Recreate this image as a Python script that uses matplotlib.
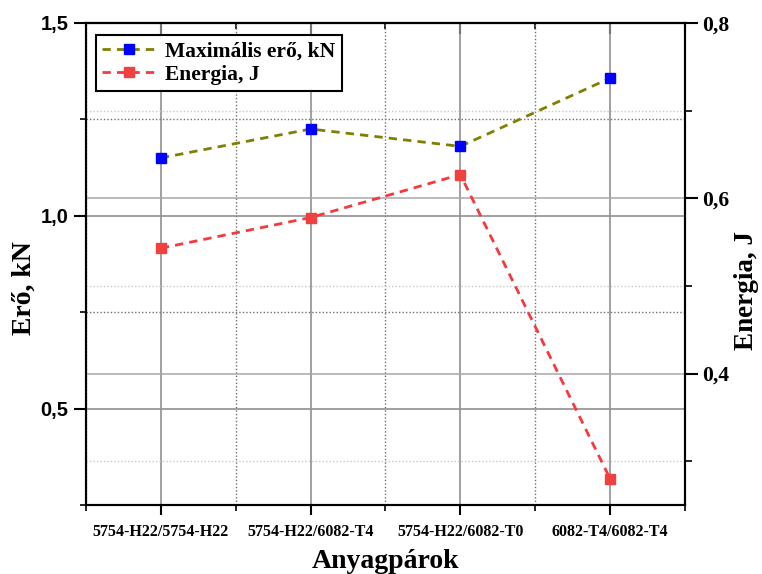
import matplotlib
matplotlib.use('Agg')
import matplotlib.pyplot as plt
from matplotlib.ticker import FixedLocator, MultipleLocator, FuncFormatter

# data
categories = ['5754-H22/5754-H22', '5754-H22/6082-T4', '5754-H22/6082-T0', '6082-T4/6082-T4']
max_force = [1.15, 1.225, 1.18, 1.357]   # kN, left axis
energy = [0.543, 0.578, 0.627, 0.280]    # J, right axis

SERIF = 'Liberation Serif'
SANS = 'Liberation Sans'

def comma(v, pos):
  return '{:.1f}'.format(v).replace('.', ',')

fig = plt.figure(figsize=(7.62, 5.74), dpi=100)
ax = fig.add_axes([0.1129, 0.1202, 0.786, 0.8398])
ax2 = ax.twinx()

x = list(range(len(categories)))

l1, = ax.plot(x, max_force, linestyle=(0, (3, 2.2)), color='#808000', lw=2,
              marker='s', markersize=7, markerfacecolor='#0000ff',
              markeredgecolor='#0000ff', zorder=5, label='Maximális erő, kN')
l2, = ax2.plot(x, energy, linestyle=(0, (3, 2.2)), color='#f5393c', lw=2,
               marker='s', markersize=7, markerfacecolor='#f04040',
               markeredgecolor='#f04040', zorder=5, label='Energia, J')

ax.set_xlim(-0.5, 3.5)
ax.set_ylim(0.25, 1.5)
ax2.set_ylim(0.25, 0.8)

# x axis
ax.set_xticks(x)
ax.set_xticklabels(categories, fontfamily=SERIF, fontweight='bold', fontsize=11.5)
ax.xaxis.set_minor_locator(FixedLocator([-0.5, 0.5, 1.5, 2.5, 3.5]))
ax.tick_params(axis='x', which='major', direction='out', length=7, width=1.5, pad=7)
ax.tick_params(axis='x', which='minor', direction='out', length=4, width=1.2)

top = ax.secondary_xaxis('top')
top.set_xticks(x)
top.xaxis.set_minor_locator(FixedLocator([0.5, 1.5, 2.5]))
top.tick_params(which='major', direction='in', length=8, width=1.5, labeltop=False)
top.tick_params(which='minor', direction='in', length=4, width=1.2)
top.spines['top'].set_linewidth(1.5)

# left axis
ax.yaxis.set_major_locator(MultipleLocator(0.5))
ax.yaxis.set_minor_locator(MultipleLocator(0.25))
ax.yaxis.set_major_formatter(FuncFormatter(comma))
ax.tick_params(axis='y', which='major', direction='out', length=9, width=1.5)
ax.tick_params(axis='y', which='minor', direction='out', length=4, width=1.2)
for t in ax.get_yticklabels():
  t.set_fontfamily(SANS)
  t.set_fontweight('bold')
  t.set_fontsize(14.5)

# right axis
ax2.yaxis.set_major_locator(MultipleLocator(0.2))
ax2.yaxis.set_minor_locator(MultipleLocator(0.1))
ax2.yaxis.set_major_formatter(FuncFormatter(comma))
ax2.tick_params(axis='y', which='major', direction='out', length=9, width=1.5)
ax2.tick_params(axis='y', which='minor', direction='out', length=5, width=1.2)
for t in ax2.get_yticklabels():
  t.set_fontfamily(SERIF)
  t.set_fontweight('bold')
  t.set_fontsize(15.5)

# grids
ax.set_axisbelow(True)
ax2.set_axisbelow(True)
ax.grid(True, axis='x', which='major', color='#909090', lw=1.2)
ax.grid(True, axis='x', which='minor', color='#707070', lw=1, linestyle=(0, (1, 1.5)))
ax.grid(True, axis='y', which='major', color='#909090', lw=1.2)
ax.grid(True, axis='y', which='minor', color='#707070', lw=1, linestyle=(0, (1, 1.5)))
ax2.grid(True, axis='y', which='major', color='#a8a8a8', lw=1.1)
ax2.grid(True, axis='y', which='minor', color='#c8c8c8', lw=1, linestyle=(0, (1, 1.5)))

for sp in ax.spines.values():
  sp.set_linewidth(1.5)
for sp in ax2.spines.values():
  sp.set_linewidth(1.5)

ax.set_xlabel('Anyagpárok', fontfamily=SERIF, fontweight='bold', fontsize=20, labelpad=6)
ax.set_ylabel('Erő, kN', fontfamily=SERIF, fontweight='bold', fontsize=20)
ax.yaxis.set_label_coords(-0.083, 0.45)
ax2.set_ylabel('Energia, J', fontfamily=SERIF, fontweight='bold', fontsize=19.5)
ax2.yaxis.set_label_coords(1.082, 0.445)

leg = ax2.legend(handles=[l1, l2], loc='upper left', bbox_to_anchor=(0.0167, 0.975),
                 borderaxespad=0,
                 prop={'family': SERIF, 'weight': 'bold', 'size': 15.5},
                 frameon=True, fancybox=False, edgecolor='black', framealpha=1,
                 handlelength=2.5, handletextpad=0.4, borderpad=0.3, labelspacing=0.15)
leg.get_frame().set_linewidth(1.5)

plt.savefig('out.png', dpi=100)
